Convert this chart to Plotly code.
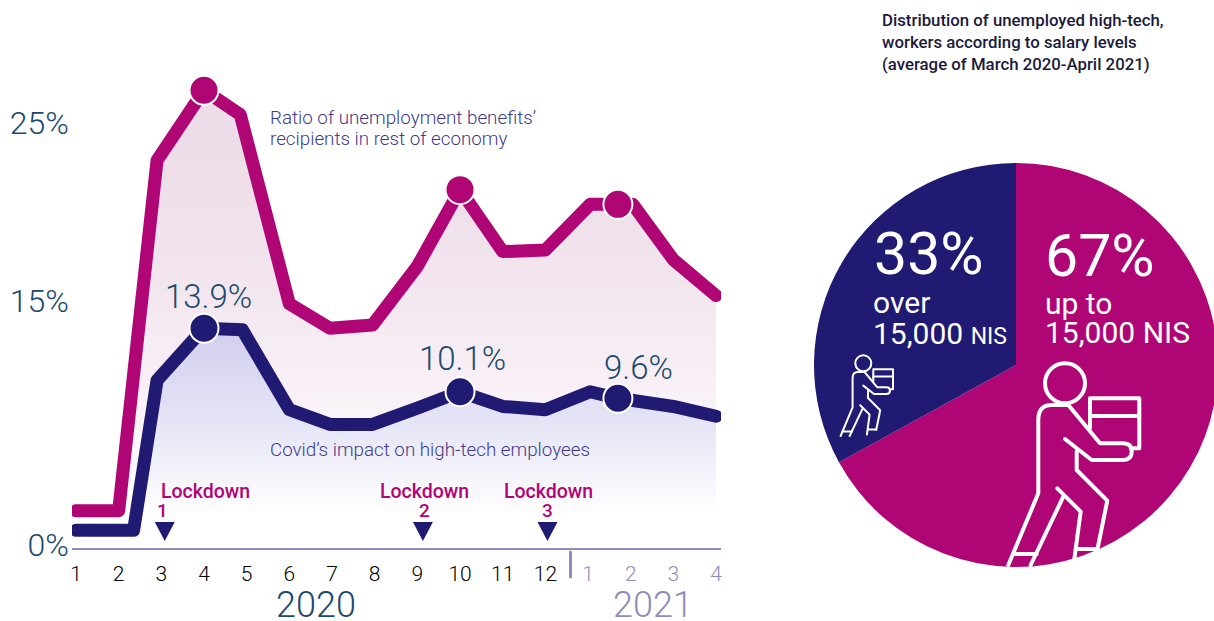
import plotly.graph_objects as go

# ---------- data ----------
month_ticks = list(range(1, 17))
month_labels = ["1","2","3","4","5","6","7","8","9","10","11","12","1","2","3","4"]
y_tick_vals = [0, 15, 25.9]
y_tick_text = ["0%", "15%", "25%"]

rest_x = [1, 2, 2.9, 4, 4.85, 6, 6.95, 7.95, 9, 10, 11, 12, 13.05, 14.05, 15, 16]
rest_y = [2.1, 2.1, 23.6, 27.9, 26.4, 14.8, 13.3, 13.5, 17.1, 21.8, 18.0, 18.1, 20.9, 20.9, 17.5, 15.3]
rest_dots_x = [4, 10, 13.7]
rest_dots_y = [27.9, 21.8, 20.9]

tech_x = [1, 2.35, 2.9, 4, 4.9, 6, 6.95, 7.95, 9, 10, 11, 12, 13.05, 13.7, 15, 16]
tech_y = [0.9, 0.9, 10.1, 13.3, 13.2, 8.3, 7.4, 7.4, 8.4, 9.4, 8.5, 8.3, 9.4, 9.0, 8.5, 7.9]
tech_dots_x = [4, 10, 13.7]
tech_dots_y = [13.3, 9.4, 9.0]
tech_dot_labels = ["13.9%", "10.1%", "9.6%"]

lockdown_x = [3.08, 9.13, 12.05]
lockdown_numbers = ["1", "2", "3"]

pie_labels = ["up to 15,000 NIS", "over 15,000 NIS"]
pie_values = [67, 33]

# ---------- style ----------
W, H = 1222, 621
MAGENTA = "#b00575"
NAVY = "#201a73"
TEAL = "#1b4a6d"
LILAC = "#8f8cbd"
LABEL = "#403a8a"
FONT = "Roboto"

def mx(px):
    return 1 + (px - 76) / 42.67

def vy(py):
    return (545 - py) / 16.3

L_PX, R_PX, T_PX, B_PX = 72, 721, 60, 548

fig = go.Figure()

fig.add_trace(go.Scatter(
    x=rest_x, y=rest_y, mode="lines", fill="tozeroy", cliponaxis=False,
    line=dict(color=MAGENTA, width=13),
    fillgradient=dict(type="vertical", start=vy(150), stop=vy(515),
                      colorscale=[[0, "#eddde8"], [0.35, "#f2e5ee"], [0.65, "#f8f0f6"], [1, "#ffffff"]]),
    hoverinfo="skip", showlegend=False))
fig.add_trace(go.Scatter(
    x=tech_x, y=tech_y, mode="lines", fill="tozeroy", cliponaxis=False,
    line=dict(color=NAVY, width=13),
    fillgradient=dict(type="vertical", start=vy(335), stop=vy(515),
                      colorscale=[[0, "#d2d0ef"], [0.5, "#e6e5f6"], [1, "#ffffff"]]),
    hoverinfo="skip", showlegend=False))
fig.add_trace(go.Scatter(
    x=rest_dots_x, y=rest_dots_y, mode="markers",
    marker=dict(color=MAGENTA, size=29, line=dict(color="white", width=2)),
    hoverinfo="skip", showlegend=False))
fig.add_trace(go.Scatter(
    x=tech_dots_x, y=tech_dots_y, mode="markers",
    marker=dict(color=NAVY, size=29, line=dict(color="white", width=2)),
    hoverinfo="skip", showlegend=False))

fig.add_trace(go.Pie(
    labels=pie_labels, values=pie_values, sort=False, direction="clockwise", rotation=0,
    marker=dict(colors=[MAGENTA, NAVY], line=dict(width=0)),
    textinfo="none", hoverinfo="skip", showlegend=False,
    domain=dict(x=[814 / W, 1218 / W], y=[1 - 567 / H, 1 - 163 / H])))

# ---------- icons (decorative, pixel space on an overlay axis) ----------
def person_paths(sx, sy, s):
    def P(x, y):
        return f"{sx + (x - 795) * s / 3:.1f},{sy + (y - 700) * s / 3:.1f}"
    return [
        f"M{P(805, 765)} L{P(755, 765)} Q{P(715, 765)} {P(715, 810)} L{P(715, 1030)} L{P(625, 1245)}",
        f"M{P(692, 1245)} L{P(790, 1040)}",
        f"M{P(772, 1015)} L{P(842, 1085)} L{P(822, 1235)}",
        f"M{P(830, 905)} L{P(830, 960)} L{P(922, 1052)} L{P(892, 1200)}",
        f"M{P(640, 1212)} L{P(710, 1212)}",
        f"M{P(835, 1197)} L{P(885, 1197)}",
        f"M{P(795, 867)} L{P(875, 930)} L{P(970, 930)} Q{P(995, 930)} {P(995, 905)} Q{P(995, 880)} {P(970, 880)} L{P(900, 880)} L{P(805, 765)}",
        f"M{P(870, 835)} L{P(870, 745)} L{P(1018, 745)} L{P(1018, 895)} L{P(992, 895)}",
        f"M{P(870, 798)} L{P(1018, 798)}",
    ]

shapes = []
for sx, sy, s, w in [(1065, 383.3, 1.0, 4), (863.3, 363.3, 0.4, 2)]:
    rad = 60 * s / 3
    shapes.append(dict(type="circle", x0=sx - rad, x1=sx + rad, y0=sy - rad, y1=sy + rad,
                       xref="x2", yref="y2", line=dict(color="white", width=w), layer="above"))
    for d in person_paths(sx, sy, s):
        shapes.append(dict(type="path", path=d, xref="x2", yref="y2",
                           line=dict(color="white", width=w), layer="above"))
# 2020 / 2021 separator
shapes.append(dict(type="line", x0=570.5, x1=570.5, y0=552, y1=577, xref="x2", yref="y2",
                   line=dict(color=LILAC, width=3)))
# lockdown triangles, placed from the lockdown months on the data axes
for lx in lockdown_x:
    hw = 10 / 42.67
    shapes.append(dict(type="path", xref="x", yref="y", fillcolor=NAVY, line=dict(width=0),
                       path=f"M{lx - hw:.3f},{vy(522):.3f} L{lx + hw:.3f},{vy(522):.3f} L{lx:.3f},{vy(541):.3f} Z"))

# ---------- text ----------
def txt(x, y, s, size, color, anchor="left", weight=400):
    return dict(x=x - 3 if anchor == "left" else x, y=y, xref="x2", yref="y2", text=s, showarrow=False,
                xanchor=anchor, yanchor="middle", align=anchor,
                font=dict(family=FONT, size=size, color=color, weight=weight))

annotations = [
    txt(271, 118, "Ratio of unemployment benefits’", 18.8, LABEL, weight=300),
    txt(271, 139, "recipients in rest of economy", 18.8, LABEL, weight=300),
    txt(271, 450, "Covid’s impact on high-tech employees", 18.8, LABEL, weight=300),
    txt(208, 296, tech_dot_labels[0], 33, TEAL, "center", 300),
    txt(462, 358, tech_dot_labels[1], 33, TEAL, "center", 300),
    txt(638, 367, tech_dot_labels[2], 33, TEAL, "center", 300),
    txt(205, 491, "Lockdown", 19.5, MAGENTA, "center", 500),
    txt(162, 510, lockdown_numbers[0], 19, MAGENTA, "center", 500),
    txt(424, 491, "Lockdown", 19.5, MAGENTA, "center", 500),
    txt(424, 510, lockdown_numbers[1], 19, MAGENTA, "center", 500),
    txt(548, 491, "Lockdown", 19.5, MAGENTA, "center", 500),
    txt(547, 510, lockdown_numbers[2], 19, MAGENTA, "center", 500),
    txt(316, 605, "2020", 36, TEAL, "center", 300),
    txt(653, 605, "2021", 36, LILAC, "center", 300),
    txt(883, 20, "Distribution of unemployed high-tech,", 16.8, "#1a1a3c", weight=500),
    txt(883, 42, "workers according to salary levels", 16.8, "#1a1a3c", weight=500),
    txt(883, 64, "(average of March 2020-April 2021)", 16.8, "#1a1a3c", weight=500),
    txt(875, 253, "33%", 59, "white"),
    txt(874, 302, "over", 30, "white"),
    txt(874, 333, "15,000 <span style='font-size:23px'>NIS</span>", 30, "white"),
    txt(1046, 255, "67%", 59, "white"),
    txt(1046, 303, "up to", 30, "white"),
    txt(1046, 332, "15,000 NIS", 30, "white"),
]

tick_text = [
    f"<span style='color:{'#000000' if i < 12 else LILAC}'>{t}</span>"
    for i, t in enumerate(month_labels)
]

fig.update_layout(
    width=W, height=H, margin=dict(l=0, r=0, t=0, b=0, autoexpand=False),
    paper_bgcolor="white", plot_bgcolor="rgba(0,0,0,0)",
    shapes=shapes, annotations=annotations,
    xaxis=dict(domain=[L_PX / W, R_PX / W], range=[mx(L_PX), mx(R_PX)], automargin=False,
               tickvals=month_ticks, ticktext=tick_text, ticks="outside", ticklen=6,
               tickcolor="rgba(0,0,0,0)", showgrid=False, zeroline=False,
               showline=True, linecolor=LILAC, linewidth=2,
               tickfont=dict(family=FONT, size=21, color="#000000", weight=300)),
    yaxis=dict(domain=[1 - B_PX / H, 1 - T_PX / H], range=[vy(B_PX), vy(T_PX)], automargin=False,
               tickvals=y_tick_vals, ticktext=y_tick_text, ticks="", showgrid=False,
               zeroline=False, showline=False, ticklabelstandoff=2,
               tickfont=dict(family=FONT, size=32, color=TEAL, weight=300)),
    xaxis2=dict(domain=[0, 1], range=[0, W], visible=False, fixedrange=True, anchor="y2", automargin=False),
    yaxis2=dict(domain=[0, 1], range=[H, 0], visible=False, fixedrange=True, anchor="x2", automargin=False),
)

post = """
document.documentElement.style.overflow='hidden';
document.body.style.margin='0';
document.body.style.overflow='hidden';
document.querySelectorAll('.scatterlayer .js-line').forEach(function(p){
  p.style.strokeLinejoin='round'; p.style.strokeLinecap='round'; p.style.strokeMiterlimit='10';
});
document.querySelectorAll('.shapelayer path').forEach(function(p){
  p.style.strokeLinejoin='round'; p.style.strokeLinecap='round';
});
"""
fig.write_html("out.html", post_script=post, config={"displayModeBar": False})
